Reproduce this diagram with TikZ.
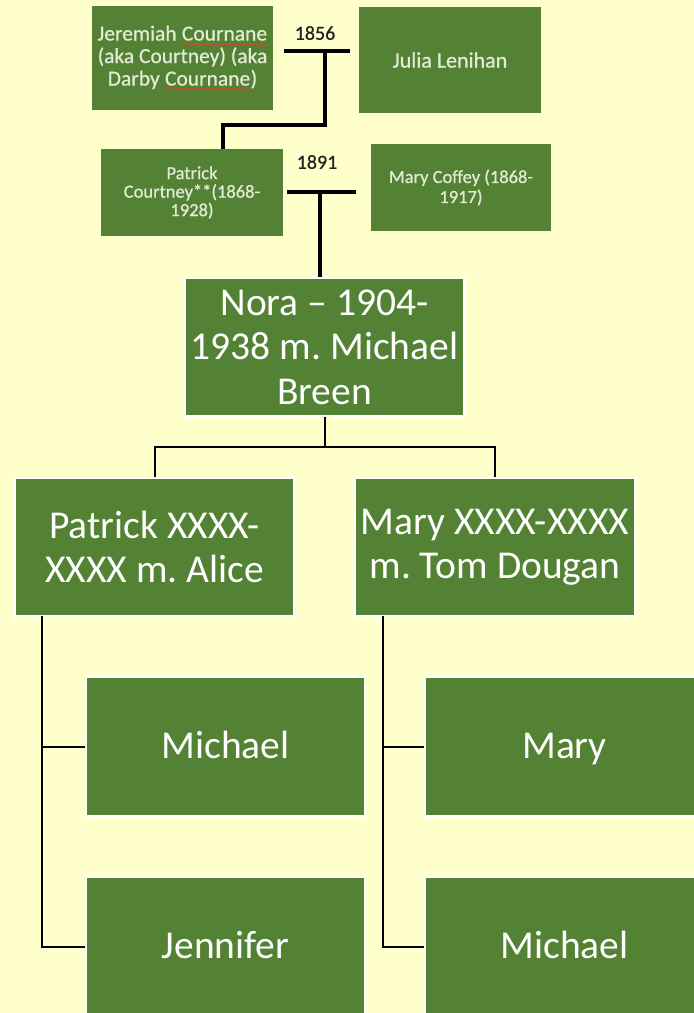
\documentclass[tikz,border=0pt]{standalone}
\usepackage{fontspec}
\setmainfont{Carlito}
\newfontfamily\scanfont[FakeBold=0.7]{Carlito}
\usetikzlibrary{decorations.pathmorphing}
\definecolor{pagebg}{HTML}{FFFFCC}
\definecolor{leaf}{HTML}{548235}
\definecolor{paletext}{HTML}{E2EBD5}
\definecolor{spell}{HTML}{CF4A2C}
\definecolor{yeartext}{HTML}{222222}
\frenchspacing
% red wavy underline under the misspelled surname
\newcommand\spellmark[1]{\tikz[baseline=(w.base), x=1pt, y=1pt]{%
  \node[inner sep=0pt, outer sep=0pt, minimum width=0pt, minimum height=0pt,
        fill=none, draw=none, text=paletext] (w) {#1};
  \draw[spell, line width=0.9pt, decorate, decoration={snake, amplitude=0.9pt, segment length=3.2pt}]
    ([yshift=-3.5pt]w.base west) -- ([yshift=-3.5pt]w.base east);}}
\tikzset{
  oldbox/.style={fill=leaf, text=paletext, align=center, inner sep=0pt},
  newbox/.style={fill=leaf, draw=white, line width=1.2pt, text=white, align=center, inner sep=0pt,
    font=\fontsize{39.5}{44.5}\selectfont},
  oneline/.style={text height=30pt, text depth=7pt},
  year/.style={text=yeartext, font=\scanfont\fontsize{20}{22}\selectfont, inner sep=0pt},
  bar/.style={draw=black, line width=4pt},
  drop/.style={draw=black, line width=3.5pt},
  link/.style={draw=black, line width=2pt},
}
\begin{document}
\begin{tikzpicture}[x=1pt, y=-1pt]
\fill[pagebg] (0,0) rectangle (694,1013);
\useasboundingbox (0,0) rectangle (694,1013);
\clip (0,0) rectangle (694,1013);

% --- first generation ---
\node[oldbox, minimum width=181pt, minimum height=104pt, font=\scanfont\fontsize{21.5}{22.5}\selectfont]
  (jer) at (182.5,58) {Jeremiah \spellmark{Cournane}\\(aka Courtney) (aka\\Darby \spellmark{Cournane})};
\node[oldbox, minimum width=182pt, minimum height=106pt, font=\scanfont\fontsize{22}{23}\selectfont]
  (jul) at (450,60) {Julia Lenihan};
\node[year] (y1856) at (315,33) {1856};
\coordinate (m1L) at (284,51);
\coordinate (m1R) at (350,51);
\coordinate (m1M) at (325,51);
\coordinate (m1K) at (223,125);

% --- second generation ---
\node[oldbox, minimum width=182pt, minimum height=87pt, font=\scanfont\fontsize{18.5}{18.5}\selectfont]
  (pc) at (192,192.5) {Patrick\\Courtney**(1868-\\1928)};
\node[oldbox, minimum width=180pt, minimum height=87pt, font=\scanfont\fontsize{18.5}{20}\selectfont]
  (mc) at (461,187.5) {Mary Coffey (1868-\\1917)};
\node[year] (y1891) at (317,162) {1891};
\coordinate (m2L) at (287,192);
\coordinate (m2R) at (356,192);
\coordinate (m2M) at (320,192);

% --- third generation ---
\node[newbox, minimum width=279pt, minimum height=138pt] (nora) at (324.5,347)
  {Nora – 1904-\\1938 m. Michael\\Breen};

% --- fourth generation ---
\node[newbox, minimum width=279pt, minimum height=138pt] (patx) at (154.5,547)
  {Patrick XXXX-\\XXXX m. Alice};
\node[newbox, minimum width=280pt, minimum height=138pt] (maryx) at (495,547)
  {Mary XXXX-XXXX\\m. Tom Dougan};

% --- fifth generation ---
\node[newbox, oneline, minimum width=279pt, minimum height=139pt] (mich) at (225.5,746.5) {Michael};
\node[newbox, oneline, minimum width=279pt, minimum height=139pt] (jen) at (225.5,946.5) {Jennifer};
\node[newbox, oneline, minimum width=279pt, minimum height=139pt] (mary) at (564.5,746.5) {Mary};
\node[newbox, oneline, minimum width=279pt, minimum height=139pt] (mich2) at (564.5,946.5) {Michael};

% marriage bars and descent lines
\draw[bar] (m1L) -- (m1R);
\draw[drop] (m1M) |- (m1K) -- (m1K |- pc.north);
\draw[bar] (m2L) -- (m2R);
\draw[drop] (m2M) -- (m2M |- nora.north);

\coordinate (split) at (325,447);
\draw[link] (split |- nora.south) -- (split) -| (patx.north);
\draw[link] (split) -| (maryx.north);

\coordinate (lrail) at (42,616);
\draw[link] (lrail) |- (jen.west);
\draw[link] (lrail |- mich.west) -- (mich.west);
\coordinate (rrail) at (383,616);
\draw[link] (rrail) |- (mich2.west);
\draw[link] (rrail |- mary.west) -- (mary.west);
\end{tikzpicture}
\end{document}
